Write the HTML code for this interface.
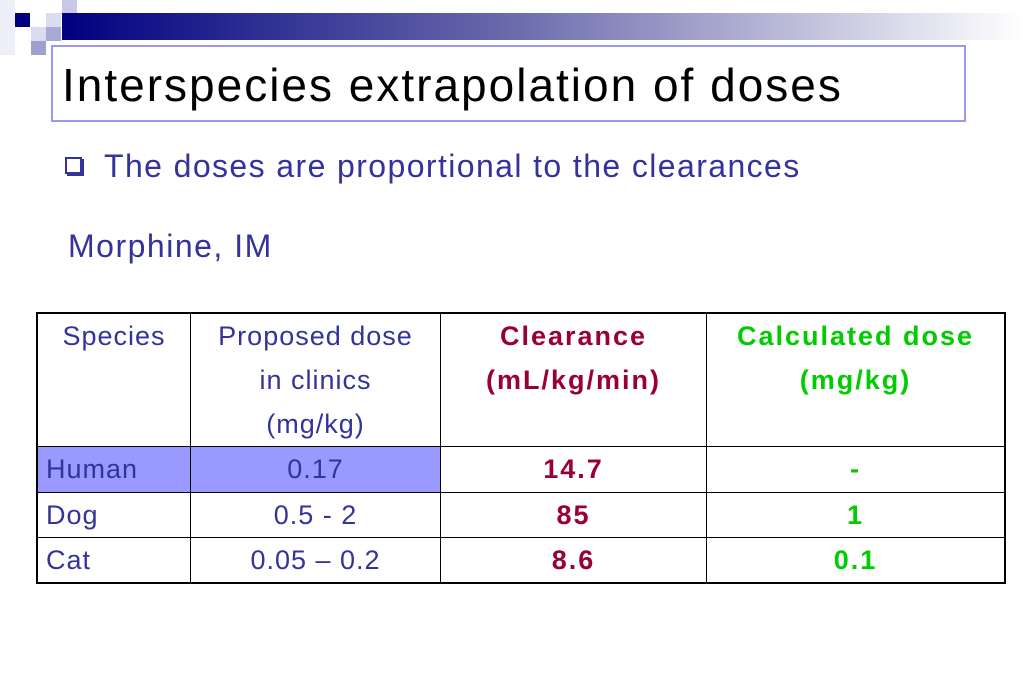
<!DOCTYPE html>
<html><head><meta charset="utf-8"><style>
body{margin:0;width:1024px;height:683px;background:#fff;position:relative;overflow:hidden;font-family:"Liberation Sans",sans-serif}
.sq{position:absolute;width:15px;height:14px}
.t{position:absolute;color:#333399}
table{position:absolute;left:36px;top:312px;width:970px;height:271px;border-collapse:collapse;border:2px solid #000}
td{border:1px solid #000;font-size:27px;color:#333399;text-align:center;vertical-align:top;padding:0;line-height:44px;letter-spacing:1px}
.r{color:#990033;font-weight:bold;letter-spacing:2px}.g{color:#00cc00;font-weight:bold;letter-spacing:2px}
</style></head><body>
<div class="sq" style="left:0;top:0;width:15px;height:55px;background:#eeeef8"></div>
<div class="sq" style="left:62px;top:0;background:#c8c8e8"></div>
<div class="sq" style="left:15px;top:13px;background:#000080"></div>
<div class="sq" style="left:46px;top:13px;background:#dcdcf0"></div>
<div class="sq" style="left:31px;top:27px;background:#dcdcf0"></div>
<div class="sq" style="left:46px;top:27px;background:#a8a8d8"></div>
<div class="sq" style="left:31px;top:41px;background:#a0a0d0"></div>
<div style="position:absolute;left:62px;top:13px;width:962px;height:27px;background:linear-gradient(90deg,#000080,#6666aa 45%,#ffffff)"></div>
<div style="position:absolute;left:51px;top:45px;width:911px;height:73px;border:2px solid #9999ee;background:#fff"></div>
<div class="t" style="left:62px;top:58px;font-size:46px;color:#000;letter-spacing:2px">Interspecies extrapolation of doses</div>
<div style="position:absolute;left:65px;top:157px;width:17px;height:17px;border:2px solid #333399;box-sizing:border-box;box-shadow:2px 2px 0 #333399"></div>
<div class="t" style="left:104px;top:148px;font-size:32px;letter-spacing:1.4px">The doses are proportional to the clearances</div>
<div class="t" style="left:68px;top:228px;font-size:32px;letter-spacing:1.5px">Morphine, IM</div>
<table>
<tr style="height:133px"><td style="width:152px">Species</td><td style="width:249px">Proposed dose<br>in clinics<br>(mg/kg)</td><td style="width:265px" class="r">Clearance<br>(mL/kg/min)</td><td class="g">Calculated dose<br>(mg/kg)</td></tr>
<tr style="height:46px"><td style="text-align:left;padding-left:8px;background:#9999ff">Human</td><td style="background:#9999ff">0.17</td><td class="r">14.7</td><td class="g">-</td></tr>
<tr style="height:45px"><td style="text-align:left;padding-left:8px">Dog</td><td>0.5 - 2</td><td class="r">85</td><td class="g">1</td></tr>
<tr style="height:45px"><td style="text-align:left;padding-left:8px">Cat</td><td>0.05 – 0.2</td><td class="r">8.6</td><td class="g">0.1</td></tr>
</table>
</body></html>
